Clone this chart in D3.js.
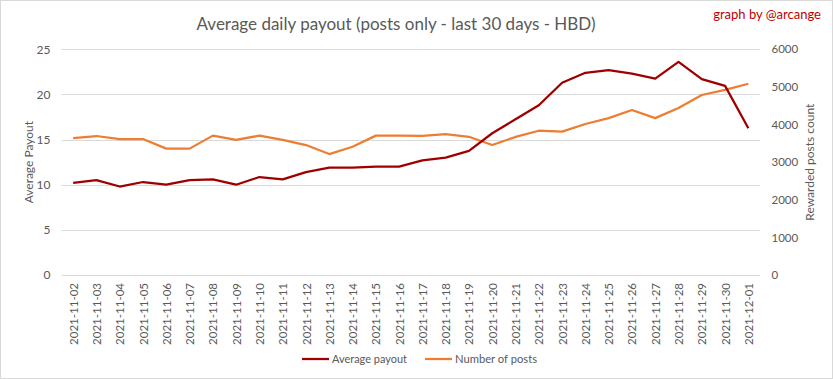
<!DOCTYPE html>
<html><head><meta charset="utf-8">
<script src="https://cdn.jsdelivr.net/npm/d3@7"></script>
<style>
html,body{margin:0;padding:0;background:#fff;}
svg{display:block;font-family:Lato, "Liberation Sans", sans-serif;}
</style></head>
<body><svg id="c" width="833" height="379"></svg>
<script>
const dates = ["2021-11-02","2021-11-03","2021-11-04","2021-11-05","2021-11-06","2021-11-07","2021-11-08","2021-11-09","2021-11-10","2021-11-11","2021-11-12","2021-11-13","2021-11-14","2021-11-15","2021-11-16","2021-11-17","2021-11-18","2021-11-19","2021-11-20","2021-11-21","2021-11-22","2021-11-23","2021-11-24","2021-11-25","2021-11-26","2021-11-27","2021-11-28","2021-11-29","2021-11-30","2021-12-01"];
const avgPayout = [10.2,10.5,9.8,10.3,10.0,10.5,10.6,10.0,10.85,10.6,11.4,11.9,11.9,12.0,12.0,12.7,13.0,13.75,15.7,17.25,18.8,21.3,22.4,22.7,22.3,21.75,23.6,21.7,20.95,16.25];
const postCount = [3640,3695,3615,3615,3360,3360,3705,3590,3705,3590,3455,3215,3410,3705,3705,3700,3745,3675,3455,3670,3835,3810,4015,4170,4385,4170,4440,4785,4920,5085];
const leftTicks = [0,5,10,15,20,25];
const rightTicks = [0,1000,2000,3000,4000,5000,6000];
const title = "Average daily payout (posts only - last 30 days - HBD)";
const credit = "graph by @arcange";
const seriesNames = ["Average payout","Number of posts"];

const W=833,H=379;
const svg=d3.select("#c");
const gray="#595959", grid="#d9d9d9";
const cRed="#9e0000", cOrange="#ed7d31";
const L=61.5,R=760,T=49.3,B=275;

svg.append("rect").attr("x",0.5).attr("y",0.5).attr("width",W-1).attr("height",H-1).attr("fill","#fff").attr("stroke",grid);

const x=d3.scalePoint().domain(dates).range([L,R]).padding(0.5);
const yL=d3.scaleLinear().domain([0,25]).range([B,T]);
const yR=d3.scaleLinear().domain([0,6000]).range([B,T]);

// gridlines
svg.append("g").selectAll("line").data(leftTicks).join("line")
 .attr("x1",L).attr("x2",R).attr("y1",d=>Math.round(yL(d))+0.5).attr("y2",d=>Math.round(yL(d))+0.5)
 .attr("stroke",grid).attr("stroke-width",1);

// left axis
const ax=svg.append("g").attr("transform",`translate(${L-11},0)`)
 .call(d3.axisLeft(yL).tickValues(leftTicks).tickSize(0).tickPadding(0));
ax.select(".domain").remove();
ax.selectAll("text").attr("fill",gray).style("font-size","12px").style("font-family","Lato, sans-serif");

const ar=svg.append("g").attr("transform",`translate(${R+11.5},0)`)
 .call(d3.axisRight(yR).tickValues(rightTicks).tickFormat(d3.format("d")).tickSize(0).tickPadding(0));
ar.select(".domain").remove();
ar.selectAll("text").attr("fill",gray).style("font-size","11.5px").style("font-family","Lato, sans-serif");

// x axis labels
const axb=svg.append("g").attr("transform",`translate(0,${B})`)
 .call(d3.axisBottom(x).tickSize(0).tickPadding(0));
axb.select(".domain").remove();
axb.selectAll("text").attr("fill",gray).style("font-size","11.5px").style("font-family","Lato, sans-serif")
 .attr("transform","rotate(-90)").attr("text-anchor","end").attr("dy","0.35em").attr("x",-8).attr("y",0);

// axis titles
svg.append("text").attr("transform",`translate(33,${(T+B)/2}) rotate(-90)`).attr("text-anchor","middle")
 .attr("fill",gray).style("font-size","12px").text("Average Payout");
svg.append("text").attr("transform",`translate(814,${(T+B)/2}) rotate(-90)`).attr("text-anchor","middle")
 .attr("fill",gray).style("font-size","12px").text("Rewarded posts count");

// lines
const lineL=d3.line().x((d,i)=>x(dates[i])).y(d=>yL(d));
const lineR=d3.line().x((d,i)=>x(dates[i])).y(d=>yR(d));
svg.append("path").datum(postCount).attr("d",lineR).attr("fill","none").attr("stroke",cOrange).attr("stroke-width",2.25).attr("stroke-linejoin","round");
svg.append("path").datum(avgPayout).attr("d",lineL).attr("fill","none").attr("stroke",cRed).attr("stroke-width",2.25).attr("stroke-linejoin","round");

// title
svg.append("text").attr("x",396).attr("y",30).attr("text-anchor","middle").attr("fill",gray)
 .style("font-size","17px").text(title);
svg.append("text").attr("x",821).attr("y",19).attr("text-anchor","end").attr("fill","#c00000")
 .style("font-size","13px").text(credit);

// legend
const lg=svg.append("g");
const items=[{n:seriesNames[0],c:cRed,x:302,w:75},{n:seriesNames[1],c:cOrange,x:425,w:82}];
items.forEach(it=>{
  lg.append("line").attr("x1",it.x).attr("x2",it.x+27).attr("y1",359).attr("y2",359).attr("stroke",it.c).attr("stroke-width",2.25);
  lg.append("text").attr("x",it.x+30).attr("y",363).attr("fill",gray).style("font-size","12px")
   .attr("textLength",it.w).attr("lengthAdjust","spacingAndGlyphs").text(it.n);
});
</script></body></html>
